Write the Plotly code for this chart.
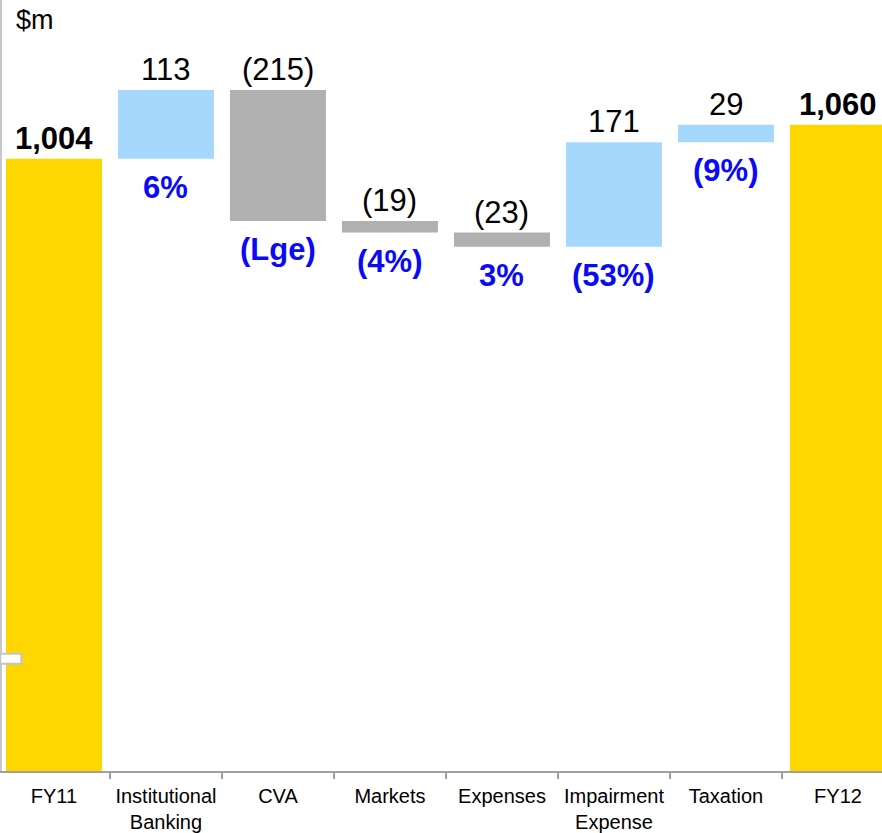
import plotly.graph_objects as go

categories = ["FY11", "Institutional<br>Banking", "CVA", "Markets", "Expenses",
              "Impairment<br>Expense", "Taxation", "FY12"]
values = [1004, 113, -215, -19, -23, 171, 29, 1060]
measures = ["total", "delta", "delta", "delta", "delta", "delta", "delta", "total"]
value_labels = ["1,004", "113", "(215)", "(19)", "(23)", "171", "29", "1,060"]
pct_labels = ["", "6%", "(Lge)", "(4%)", "3%", "(53%)", "(9%)", ""]

YELLOW = "#FFD700"
BLUE_UP = "#A6D8FD"
GREY_DOWN = "#B0B0B0"
PCT_BLUE = "#0A0AF5"

bases, heights, colors, tops, bottoms = [], [], [], [], []
running = 0
for v, m in zip(values, measures):
    if m == "total":
        b, h = 0, v
        running = v
        c = YELLOW
    else:
        b = min(running, running + v)
        h = abs(v)
        c = BLUE_UP if v > 0 else GREY_DOWN
        running += v
    bases.append(b)
    heights.append(h)
    colors.append(c)
    tops.append(b + h)
    bottoms.append(b)

fig = go.Figure()
fig.add_trace(go.Bar(
    x=categories, y=heights, base=bases,
    marker=dict(color=colors, line=dict(width=0)),
    width=0.857, hoverinfo="skip", showlegend=False,
))

FONT = "Liberation Sans, Arial, sans-serif"
for cat, top, bot, vl, pl, m in zip(categories, tops, bottoms, value_labels, pct_labels, measures):
    is_total = m == "total"
    fig.add_annotation(
        x=cat, y=top, text=f"<b>{vl}</b>" if is_total else vl,
        showarrow=False, yanchor="bottom", yshift=1,
        font=dict(family=FONT, size=31, color="black"),
    )
    if pl:
        fig.add_annotation(
            x=cat, y=bot, text=f"<b>{pl}</b>",
            showarrow=False, yanchor="top", yshift=-9,
            font=dict(family=FONT, size=31, color=PCT_BLUE),
        )

fig.add_annotation(
    xref="paper", yref="paper", x=0.014, y=1.0, xanchor="left", yanchor="top",
    text="$m", showarrow=False, font=dict(family=FONT, size=27, color="black"),
    yshift=-3,
)

# small stray outline box on the left edge, as in the source slide
fig.add_shape(
    type="rect", xref="paper", yref="paper",
    x0=-0.002, x1=0.022, y0=0.139, y1=0.152,
    line=dict(color="#C4C4C4", width=2), fillcolor="white", layer="above",
)

fig.update_layout(
    width=882, height=833,
    margin=dict(l=2, r=0, t=0, b=62),
    plot_bgcolor="white", paper_bgcolor="white",
    xaxis=dict(
        type="category", range=[-0.464, 7.393], automargin=False,
        showline=True, linecolor="#A0A0A0", linewidth=2,
        ticks="outside", tickson="boundaries", ticklen=6, tickcolor="#A0A0A0", tickwidth=2,
        tickfont=dict(family=FONT, size=20, color="black"), tickangle=0,
        ticklabelstandoff=6,
        showgrid=False, zeroline=False,
    ),
    yaxis=dict(
        range=[0, 1264.5], automargin=False, showline=True, linecolor="#C8C8C8", linewidth=2,
        showticklabels=False, ticks="", showgrid=False, zeroline=False,
    ),
)

fig.write_html("out.html", config={"displayModeBar": False},
               post_script="document.body.style.margin='0';")
